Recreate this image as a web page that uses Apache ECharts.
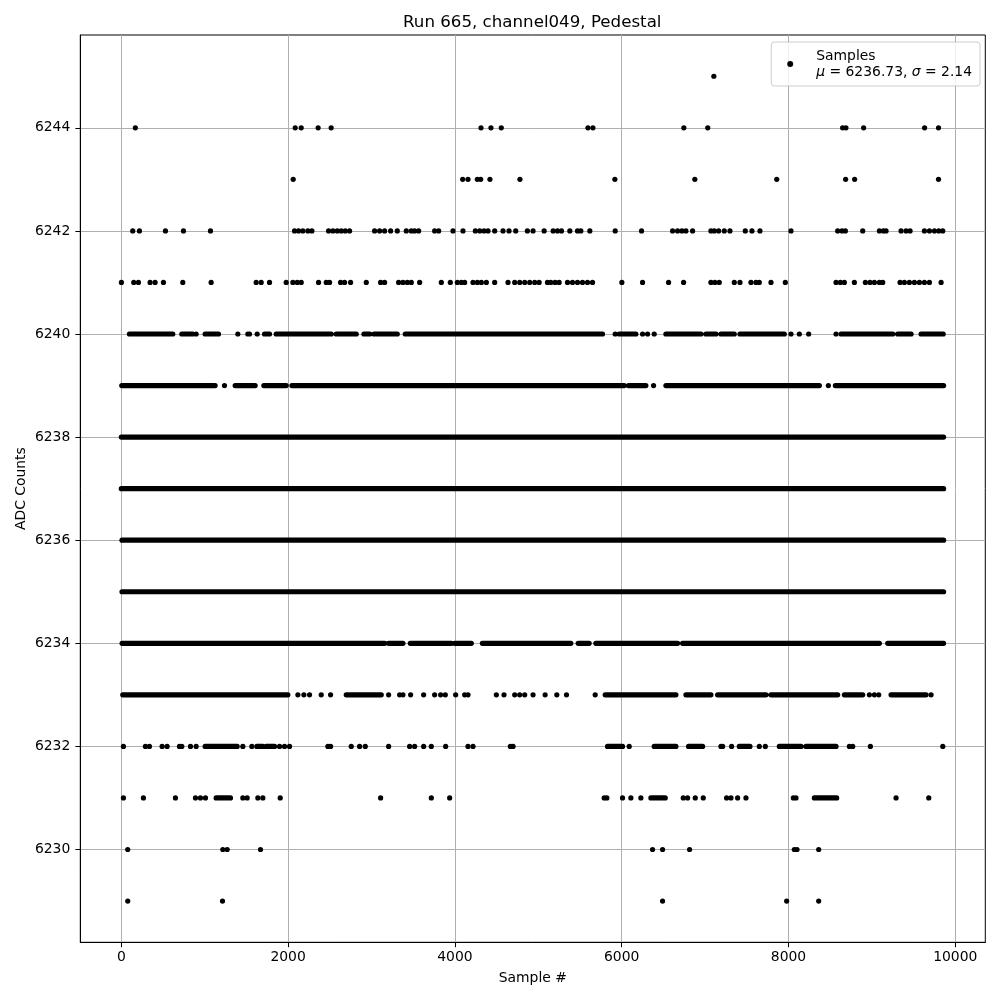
<!DOCTYPE html>
<html>
<head>
<meta charset="utf-8">
<script src="https://cdn.jsdelivr.net/npm/echarts@6/dist/echarts.min.js"></script>
<style>html,body{margin:0;padding:0;background:#fff}#c{width:1000px;height:1000px}</style>
</head>
<body>
<div id="c"></div>
<script>
// ---- Data (sample index, ADC level) ----
const xTicks = [0, 2000, 4000, 6000, 8000, 10000];
const yTicks = [6230, 6232, 6234, 6236, 6238, 6240, 6242, 6244];

// isolated samples per ADC level
const dots6245 = [7105];
const dots6244 = [168,2085,2157,2360,2516,4313,4432,4556,5595,5655,6745,7032,8649,8689,8901,9632,9799];
const dots6243 = [2061,4093,4157,4269,4309,4420,4780,5918,6877,7859,8685,8793,9799];
const dots6242 = [137,217,529,745,1069,2077,2125,2177,2237,2285,2485,2537,2589,2637,2685,2737,3037,3097,3157,3229,3309,3417,3477,3517,3565,3757,3805,3977,4097,4245,4297,4349,4397,4477,4577,4649,4729,4869,4937,5070,5178,5230,5278,5378,5470,5510,5618,5922,6238,6610,6670,6722,6770,6850,7070,7110,7162,7230,7298,7482,7562,7658,8030,8590,8642,8682,8890,9090,9138,9170,9350,9410,9458,9630,9690,9750,9802,9850];
const dots6241 = [1,149,205,345,405,505,737,1077,1617,1677,1777,1977,2057,2109,2157,2365,2457,2497,2629,2677,2749,2937,3109,3157,3325,3377,3429,3477,3577,3837,3945,4029,4077,4117,4217,4269,4317,4377,4477,4637,4717,4777,4837,4897,4957,5010,5110,5150,5202,5250,5350,5410,5470,5530,5590,5650,6002,6250,6562,6742,7070,7118,7170,7350,7418,7550,7610,7650,7790,7962,8570,8622,8670,8790,8922,8978,9030,9090,9130,9338,9390,9450,9510,9570,9630,9690,9830];
const dots6240 = [897,1397,1629,5922,6250,6310,6390,8030,8130,8242,8570];
const dots6239 = [1237,6382,8478];
const dots6233 = [2117,2189,2257,2397,2509,3205,3337,3377,3469,3625,3757,3829,3885,4009,4117,4157,4497,4589,4717,4777,4837,4937,5082,5222,5338,5682,8970,9030,9082,9710];
const dots6232 = [25,289,337,489,549,697,725,829,897,1457,1565,1897,1957,2017,2477,2509,2757,2857,2925,3205,3457,3517,3625,3717,3889,4157,4217,4665,4697,6090,7190,7210,7318,7650,7722,8730,8770,8982,9850];
const dots6231 = [25,265,649,889,949,1009,1457,1509,1637,1697,1905,3109,3717,3937,5790,5822,6010,6110,6230,6738,6790,6882,6978,7258,7310,7390,7490,8058,8090,9290,9682];
const dots6230 = [77,1217,1269,1669,6370,6490,6814,8070,8102,8362];
const dots6229 = [77,1213,6490,7978,8362];

// dense runs of consecutive samples per ADC level: [first, last]
const runs6240 = [[97,617],[725,857],[1005,1165],[1517,1537],[1717,1777],[1857,2517],[2577,2817],[2909,2977],[3029,3309],[3405,5770],[5970,6170],[6530,6950],[7010,7130],[7190,7350],[7418,7950],[8630,9250],[9310,9470],[9590,9855]];
const runs6239 = [[5,1125],[1365,1605],[1709,1977],[2045,6030],[6082,6290],[6530,8370],[8562,9860]];
const runs6238 = [[0,9860]];
const runs6237 = [[0,9860]];
const runs6236 = [[8,9860]];
const runs6235 = [[8,9860]];
const runs6234 = [[9,3157],[3205,3377],[3465,3957],[3997,4197],[4329,5390],[5478,5610],[5690,6670],[6730,9090],[9190,9860]];
const runs6233 = [[17,1997],[2697,3117],[5802,6650],[6770,7070],[7150,7730],[7790,8590],[8670,8890],[9230,9650]];
const runs6232 = [[1005,1389],[1625,1697],[1737,1837],[5830,6010],[6390,6650],[6802,6970],[7410,7538],[7890,8150],[8210,8570]];
const runs6231 = [[1137,1309],[6350,6522],[8310,8578]];

const legendName = 'Samples';
const legendStats = '{i|μ} = 6236.73, {i|σ} = 2.14';

// ---- build series ----
const dotLevels = [[6245,dots6245],[6244,dots6244],[6243,dots6243],[6242,dots6242],[6241,dots6241],[6240,dots6240],[6239,dots6239],[6233,dots6233],[6232,dots6232],[6231,dots6231],[6230,dots6230],[6229,dots6229]];
const runLevels = [[6240,runs6240],[6239,runs6239],[6238,runs6238],[6237,runs6237],[6236,runs6236],[6235,runs6235],[6234,runs6234],[6233,runs6233],[6232,runs6232],[6231,runs6231]];

const scatterData = [];
dotLevels.forEach(([lv, xs]) => xs.forEach(x => scatterData.push([x, lv])));

const FONT = 'DejaVu Sans';
const series = [{
  name: legendName, type: 'scatter', data: scatterData,
  symbol: 'circle', symbolSize: 5.2, itemStyle: {color: '#000', opacity: 1},
  silent: true, z: 3
}];
runLevels.forEach(([lv, runs]) => {
  const d = [];
  runs.forEach(([a, b], i) => {
    if (i > 0) d.push(['-', '-']);
    d.push([a, lv]); d.push([b, lv]);
  });
  series.push({
    name: legendName, type: 'line', data: d, showSymbol: false, symbol: 'none',
    connectNulls: false, silent: true, z: 3,
    lineStyle: {color: '#000', width: 5.2, cap: 'round', opacity: 1}
  });
});

const plain = v => String(v);

const chart = echarts.init(document.getElementById('c'), null, {renderer: 'canvas'});
chart.setOption({
  animation: false,
  backgroundColor: '#fff',
  textStyle: {fontFamily: FONT},
  title: {
    text: 'Run 665, channel049, Pedestal', left: 398, top: 9,
    textStyle: {fontFamily: FONT, fontSize: 16.67, fontWeight: 'normal', color: '#000'}
  },
  legend: {
    data: [{name: legendName, icon: 'circle'}],
    right: 20, top: 42, orient: 'vertical',
    itemWidth: 6, itemHeight: 6,
    padding: [6, 8, 6, 16],
    backgroundColor: 'rgba(255,255,255,0.8)', borderColor: '#cccccc', borderWidth: 1, borderRadius: 3,
    selectedMode: false,
    formatter: () => legendName + '\n' + legendStats,
    textStyle: {
      fontFamily: FONT, fontSize: 13.9, lineHeight: 16, color: '#000', padding: [0, 0, 0, 18],
      rich: {i: {fontFamily: FONT, fontStyle: 'italic', fontSize: 13.9, lineHeight: 16, color: '#000'}}
    }
  },
  grid: {left: 80.3, right: 14.7, top: 35, bottom: 57.7, show: true, borderColor: '#000', borderWidth: 1, backgroundColor: 'transparent', containLabel: false},
  xAxis: {
    type: 'value', min: -492, max: 10360,
    name: 'Sample #', nameLocation: 'middle', nameGap: 29,
    nameTextStyle: {fontFamily: FONT, fontSize: 13.9, color: '#000'},
    axisLine: {show: true, onZero: false, lineStyle: {color: '#000', width: 1}},
    axisTick: {show: true, customValues: xTicks, length: 4.9, lineStyle: {color: '#000', width: 1}},
    axisLabel: {customValues: xTicks, formatter: plain, fontFamily: FONT, fontSize: 13.9, color: '#000', margin: 8},
    splitLine: {show: true, lineStyle: {color: '#b0b0b0', width: 1}}
  },
  yAxis: {
    type: 'value', min: 6228.2, max: 6245.8,
    name: 'ADC Counts', nameLocation: 'middle', nameGap: 52, nameRotate: 90, nameMoveOverlap: false,
    nameTextStyle: {fontFamily: FONT, fontSize: 13.9, color: '#000'},
    axisLine: {show: true, onZero: false, lineStyle: {color: '#000', width: 1}},
    axisTick: {show: true, customValues: yTicks, length: 4.9, lineStyle: {color: '#000', width: 1}},
    axisLabel: {customValues: yTicks, formatter: plain, fontFamily: FONT, fontSize: 13.9, color: '#000', margin: 10},
    splitLine: {show: true, lineStyle: {color: '#b0b0b0', width: 1}}
  },
  series: series
});
</script>
</body>
</html>
